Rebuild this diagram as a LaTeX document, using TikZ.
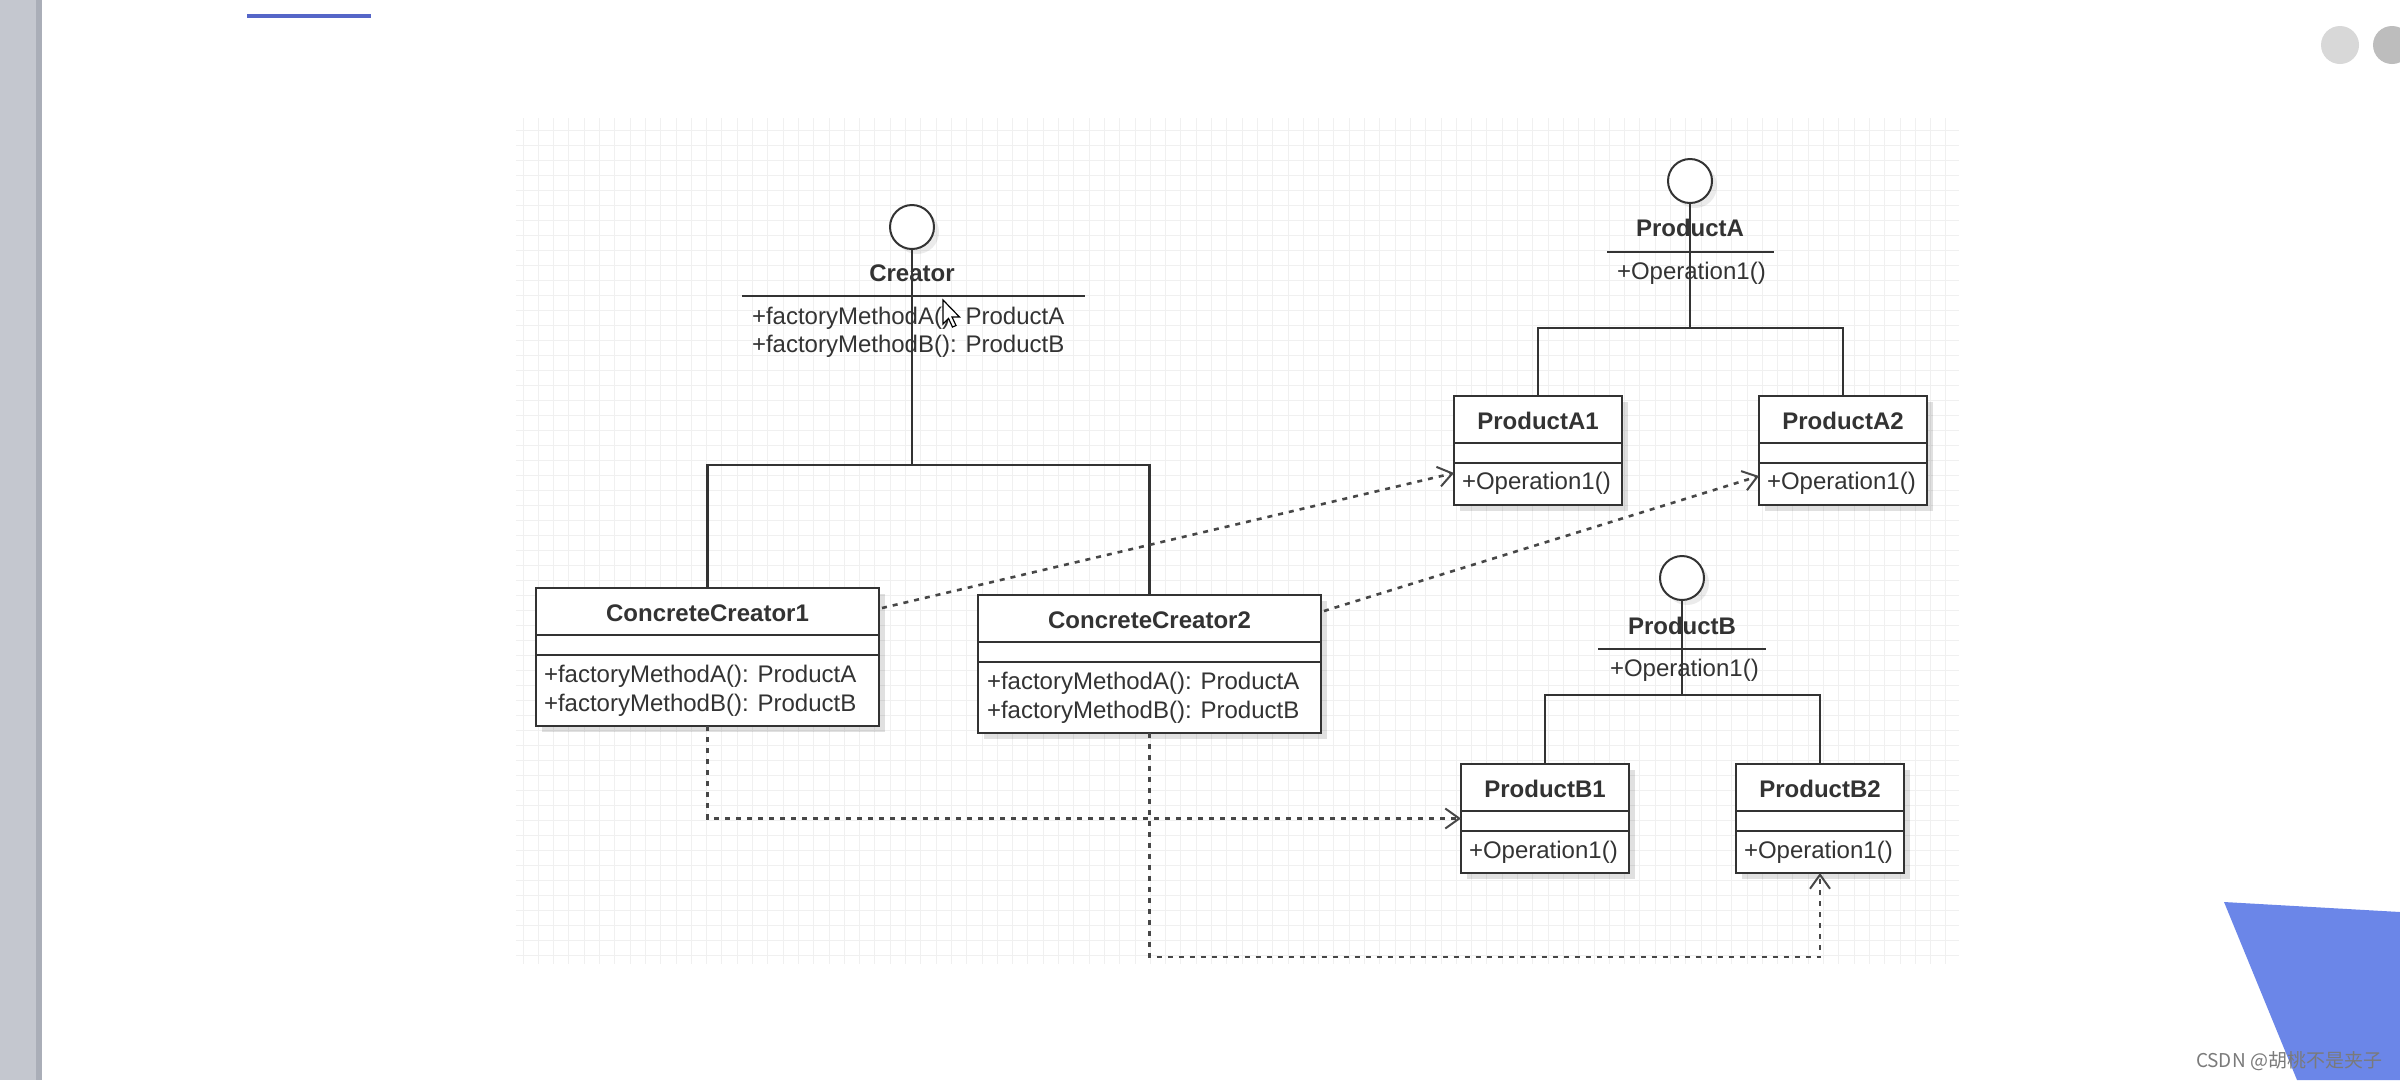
\documentclass[tikz,border=0pt]{standalone}
\usepackage{fontspec}
\setmainfont{Liberation Sans}
\newfontfamily\cjk{Noto Sans CJK SC}
\usetikzlibrary{arrows.meta,calc,shadows}
\definecolor{ink}{HTML}{333333}
\definecolor{gridc}{HTML}{F0F0F0}
\definecolor{barc}{HTML}{C4C7CF}
\definecolor{bardark}{HTML}{AAAEB8}
\definecolor{topblue}{HTML}{5566C8}
\definecolor{triblue}{HTML}{6B86E8}
\definecolor{dotA}{HTML}{D8D8D8}
\definecolor{dotB}{HTML}{BDBDBD}
\definecolor{wmgray}{HTML}{7A7A7A}
\begin{document}
\begin{tikzpicture}[x=1pt,y=-1pt,
  every node/.style={inner sep=0pt,outer sep=0pt},
  txt/.style={font=\fontsize{24}{28}\selectfont,text=ink},
  ttl/.style={font=\bfseries\fontsize{24}{28}\selectfont,text=ink},
  shade/.style={drop shadow={shadow xshift=6pt,shadow yshift=-6pt,fill=black,opacity=0.12}},
  clsbig/.style={rectangle,draw=ink,line width=2pt,fill=white,anchor=north west,
     minimum width=343pt,minimum height=138pt,shade},
  clssmall/.style={rectangle,draw=ink,line width=2pt,fill=white,anchor=north west,
     minimum width=168pt,minimum height=109pt,shade},
  iface/.style={circle,draw=ink,line width=2pt,fill=white,minimum size=44pt,
     drop shadow={shadow xshift=5pt,shadow yshift=-5pt,fill=black,opacity=0.08}},
  sep/.style={draw=ink,line width=2pt},
  gen/.style={draw=ink,line width=2.2pt},
  dep/.style={draw=ink!90,line width=2.6pt,dash pattern=on 5pt off 6pt,
     -{Straight Barb[length=14pt,width=20pt,line width=2pt]}}
]
\useasboundingbox (0,0) rectangle (2400,1080);
\fill[white] (0,0) rectangle (2400,1080);

% window chrome
\fill[barc] (0,0) rectangle (42,1080);
\fill[bardark] (36,0) rectangle (42,1080);
\draw[topblue,line width=3.5pt] (247,16) -- (371,16);
\fill[dotA] (2340,45) circle (19);
\fill[dotB] (2392,45) circle (19);
\fill[triblue] (2224,902) -- (2400,912) -- (2400,1080) -- (2297,1080) -- cycle;

% grid
\foreach \i in {0,...,93} {\draw[gridc,line width=1pt] ({523+15.3*\i},118) -- ({523+15.3*\i},964);}
\foreach \j in {0,...,55} {\draw[gridc,line width=1pt] (516,{130+15*\j}) -- (1959,{130+15*\j});}

% ---------- Creator interface ----------
\node[iface] (cI) at (912,227) {};
\node[ttl] (cT) at (912,273) {Creator};
\draw[sep] (742,296) -- (1085,296);
\node[txt,anchor=west] (cM1) at (752,318) {+factoryMethodA(): ProductA};
\node[txt,anchor=west] (cM2) at (752,346) {+factoryMethodB(): ProductB};

% ---------- ConcreteCreator1 ----------
\node[clsbig] (cc1) at (536,588) {};
\draw[sep] ($(cc1.north west)+(0,47)$) -- ($(cc1.north east)+(0,47)$);
\draw[sep] ($(cc1.north west)+(0,67)$) -- ($(cc1.north east)+(0,67)$);
\node[ttl] (cc1t) at ($(cc1.north)+(0,25)$) {ConcreteCreator1};
\node[txt,anchor=west] (cc1m1) at ($(cc1.north west)+(8,88)$) {+factoryMethodA(): ProductA};
\node[txt,anchor=west] (cc1m2) at ($(cc1.north west)+(8,117)$) {+factoryMethodB(): ProductB};

% ---------- ConcreteCreator2 ----------
\node[clsbig] (cc2) at (978,595) {};
\draw[sep] ($(cc2.north west)+(0,47)$) -- ($(cc2.north east)+(0,47)$);
\draw[sep] ($(cc2.north west)+(0,67)$) -- ($(cc2.north east)+(0,67)$);
\node[ttl] (cc2t) at ($(cc2.north)+(0,25)$) {ConcreteCreator2};
\node[txt,anchor=west] (cc2m1) at ($(cc2.north west)+(9,88)$) {+factoryMethodA(): ProductA};
\node[txt,anchor=west] (cc2m2) at ($(cc2.north west)+(9,117)$) {+factoryMethodB(): ProductB};

% ---------- ProductA interface ----------
\node[iface] (pAI) at (1690,181) {};
\node[ttl] (pAT) at (1690,228) {ProductA};
\draw[sep] (1607,252) -- (1774,252);
\node[txt,anchor=west] (pAM) at (1617,273) {+Operation1()};

% ---------- ProductA1 / A2 ----------
\node[clssmall] (a1) at (1454,396) {};
\draw[sep] ($(a1.north west)+(0,47)$) -- ($(a1.north east)+(0,47)$);
\draw[sep] ($(a1.north west)+(0,67)$) -- ($(a1.north east)+(0,67)$);
\node[ttl] (a1t) at ($(a1.north)+(0,25)$) {ProductA1};
\node[txt,anchor=west] (a1m) at ($(a1.north west)+(8,87)$) {+Operation1()};

\node[clssmall] (a2) at (1759,396) {};
\draw[sep] ($(a2.north west)+(0,47)$) -- ($(a2.north east)+(0,47)$);
\draw[sep] ($(a2.north west)+(0,67)$) -- ($(a2.north east)+(0,67)$);
\node[ttl] (a2t) at ($(a2.north)+(0,25)$) {ProductA2};
\node[txt,anchor=west] (a2m) at ($(a2.north west)+(8,87)$) {+Operation1()};

% ---------- ProductB interface ----------
\node[iface] (pBI) at (1682,578) {};
\node[ttl] (pBT) at (1682,626) {ProductB};
\draw[sep] (1598,649) -- (1766,649);
\node[txt,anchor=west] (pBM) at (1610,670) {+Operation1()};

% ---------- ProductB1 / B2 ----------
\node[clssmall] (b1) at (1461,764) {};
\draw[sep] ($(b1.north west)+(0,47)$) -- ($(b1.north east)+(0,47)$);
\draw[sep] ($(b1.north west)+(0,67)$) -- ($(b1.north east)+(0,67)$);
\node[ttl] (b1t) at ($(b1.north)+(0,25)$) {ProductB1};
\node[txt,anchor=west] (b1m) at ($(b1.north west)+(8,88)$) {+Operation1()};

\node[clssmall] (b2) at (1736,764) {};
\draw[sep] ($(b2.north west)+(0,47)$) -- ($(b2.north east)+(0,47)$);
\draw[sep] ($(b2.north west)+(0,67)$) -- ($(b2.north east)+(0,67)$);
\node[ttl] (b2t) at ($(b2.north)+(0,25)$) {ProductB2};
\node[txt,anchor=west] (b2m) at ($(b2.north west)+(8,88)$) {+Operation1()};

% ---------- realization trees ----------
\coordinate (cBar) at (912,465);
\draw[gen] (cI.south) -- (cBar);
\draw[gen] (cc1.north) |- (cBar) -| (cc2.north);

\coordinate (aBar) at (1690,328);
\draw[gen] (pAI.south) -- (aBar);
\draw[gen] (a1.north) |- (aBar) -| (a2.north);

\coordinate (bBar) at (1682,695);
\draw[gen] (pBI.south) -- (bBar);
\draw[gen] (b1.north) |- (bBar) -| (b2.north);

% ---------- dependencies ----------
\draw[dep] ($(cc1.north east)+(3,20)$) -- ($(a1.north west)+(0,77)$);
\draw[dep] ($(cc2.north east)+(3,16)$) -- ($(a2.north west)+(0,80)$);
\draw[dep] (cc1.south) |- (b1.west);
\draw[dep] (cc2.south) -- ++(0,224) -| (b2.south);

% mouse pointer over Creator
\draw[black,fill=white,line width=1.2pt,shift={(943,300)}]
  (0,0) -- (0,24) -- (5.5,18.5) -- (9.5,27) -- (13,25.5) -- (9,17) -- (16.5,17) -- cycle;

% watermark
\node[font=\cjk\fontsize{19}{22}\selectfont,text=wmgray] (wm) at (2289,1061) {CSDN @胡桃不是夹子};
\end{tikzpicture}
\end{document}
